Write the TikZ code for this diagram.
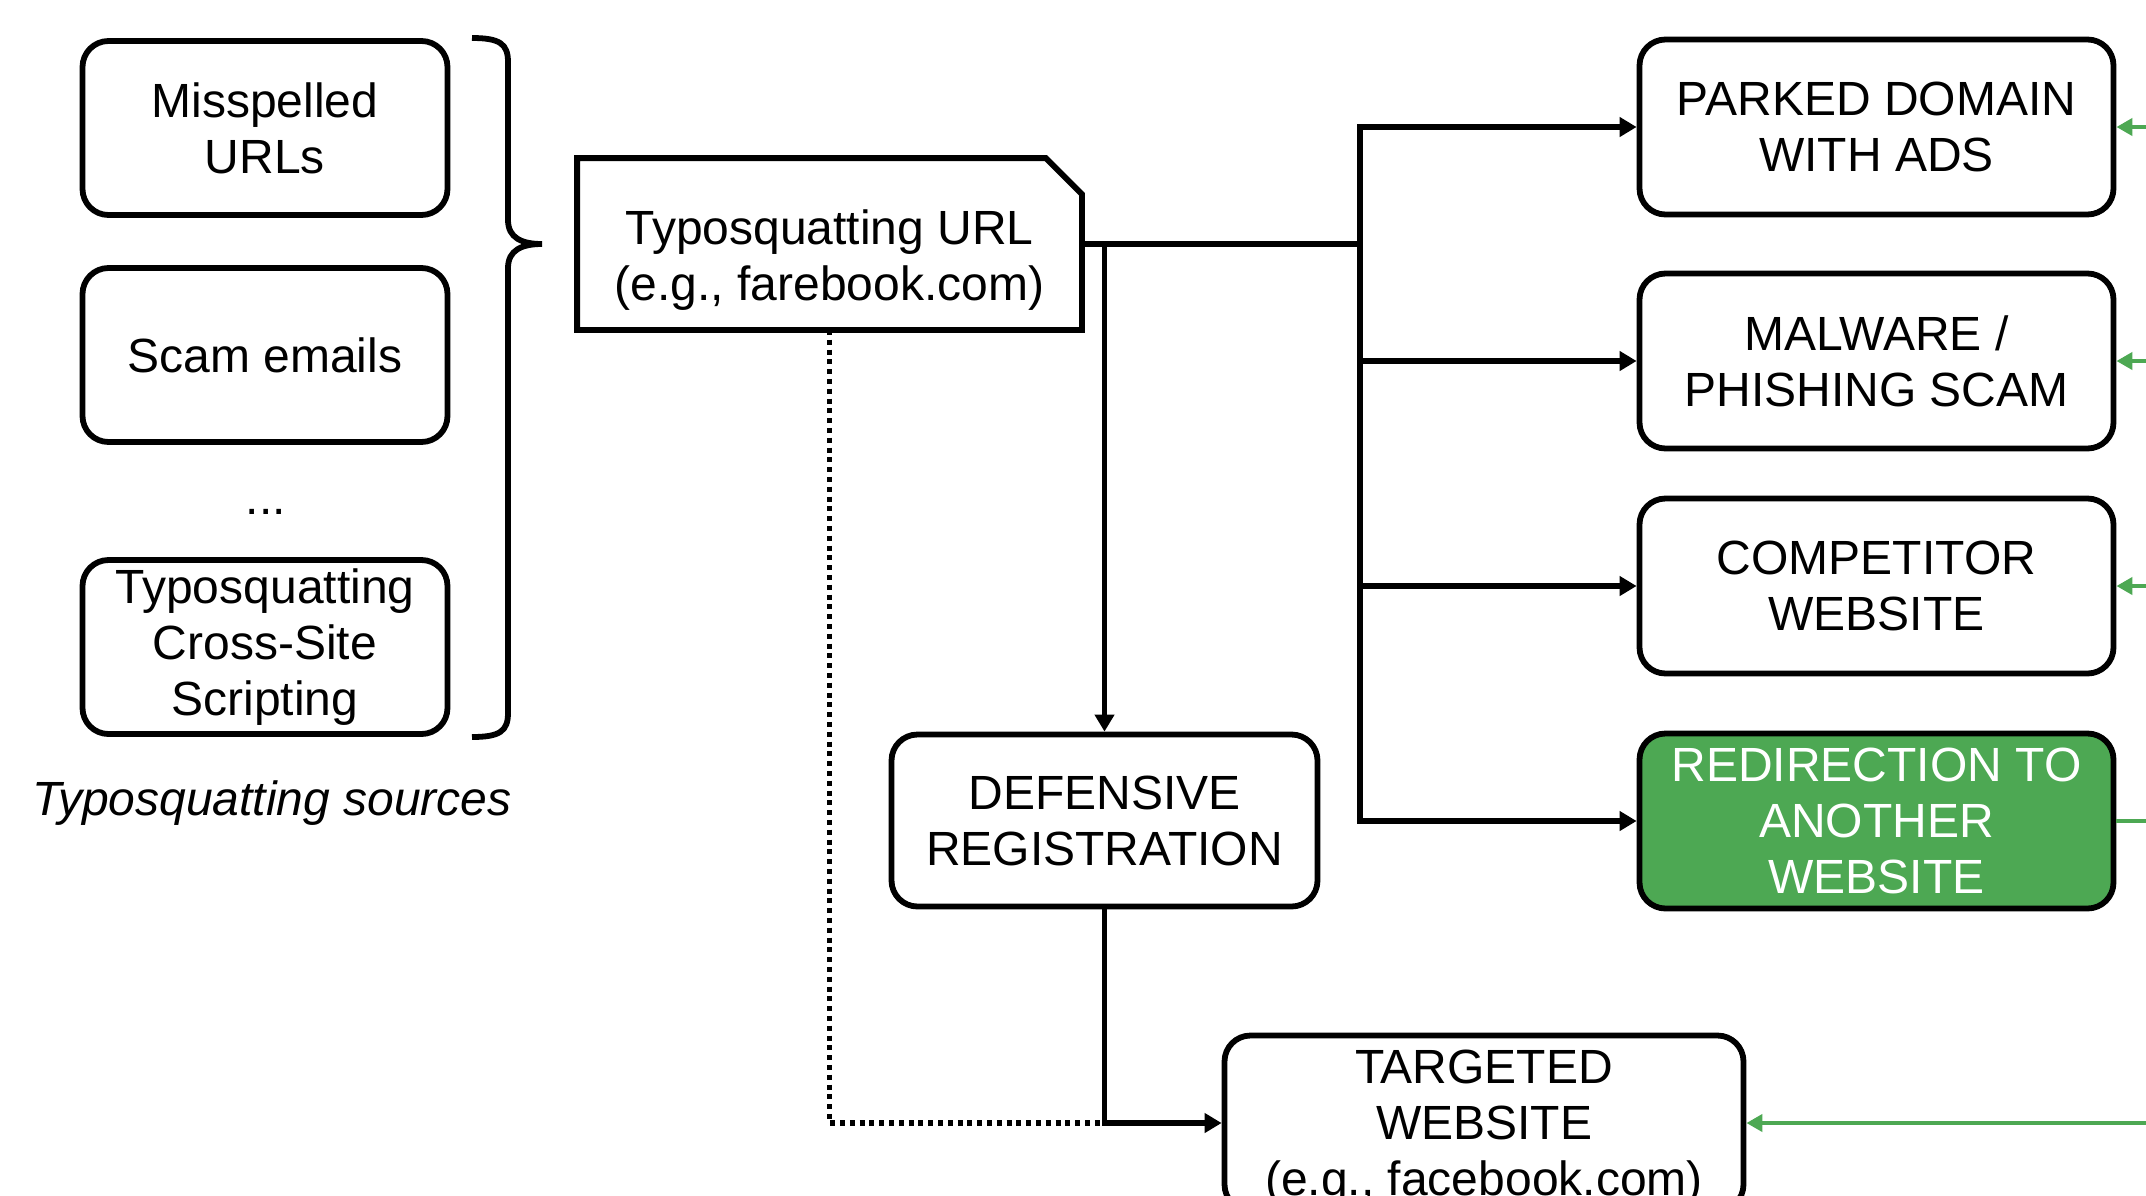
\documentclass[tikz,border=0pt]{standalone}
\usepackage{fontspec}
\setmainfont{Liberation Sans}
\usetikzlibrary{arrows.meta}
\definecolor{ggreen}{RGB}{77,168,83}
\begin{document}
\begin{tikzpicture}[x=0.5pt,y=-0.5pt,
 every node/.style={font=\fontsize{24pt}{28pt}\selectfont, inner sep=0pt},
 box/.style={draw, line width=2.9pt, rounded corners=13pt, minimum width=182.5pt, minimum height=87pt, align=center},
 rbox/.style={box, minimum width=237pt, minimum height=87.5pt},
 conn/.style={line width=2.7pt},
 arr/.style={conn, -{Triangle[length=8.5pt,width=9.5pt]}},
 dotl/.style={line width=2.7pt, dash pattern=on 2.5pt off 2.4pt},
 gline/.style={ggreen, line width=2pt},
 garr/.style={gline, -{Triangle[length=8pt,width=8.5pt]}}
]
\path[use as bounding box, clip] (0,0) rectangle (2146,1195);
\fill[white] (0,0) rectangle (2146,1195);

% sources
\node[box] (mis) at (265,128) {Misspelled\\URLs};
\node[box] (scam) at (265,355) {Scam emails};
\node (dots) at (266,512) {...};
\node[box] (xss) at (265,647) {Typosquatting\\Cross-Site\\Scripting};
\node[anchor=base, font=\fontsize{24pt}{28pt}\selectfont\itshape] (cap) at (272,815) {Typosquatting sources};

% brace
\draw[line width=2.9pt] (472,38) .. controls (500,38) and (508,44) .. (508,62) -- (508,220)
  .. controls (508,238) and (522,244) .. (542,244)
  .. controls (522,244) and (508,250) .. (508,268) -- (508,713)
  .. controls (508,731) and (500,737) .. (472,737);

% typosquatting URL
\node[minimum width=252pt, minimum height=85.5pt] (url) at (829.5,244) {};
\draw[line width=2.9pt] (url.north west) -- ([xshift=-18pt]url.north east) -- ([yshift=-18pt]url.north east) -- (url.south east) -- (url.south west) -- cycle;
\node[align=center] (urlt) at (829.5,260) {Typosquatting URL\\(e.g., farebook.com)};

% outcomes
\node[rbox] (parked) at (1876.5,127) {PARKED DOMAIN\\WITH ADS};
\node[rbox] (malware) at (1876.5,361) {MALWARE /\\PHISHING SCAM};
\node[rbox] (comp) at (1876.5,586) {COMPETITOR\\WEBSITE};
\node[rbox, fill=ggreen, text=white] (redir) at (1876.5,821) {REDIRECTION TO\\ANOTHER\\WEBSITE};
\node[box, minimum width=213pt, minimum height=86pt] (def) at (1104.5,820.5) {DEFENSIVE\\REGISTRATION};
\node[box, minimum width=259.5pt, minimum height=87.5pt] (target) at (1484,1123) {};
\node[align=center] (targett) at (1484,1128) {TARGETED\\WEBSITE\\(e.g., facebook.com)};

% black connectors
\coordinate (jt) at (1360,127);
\draw[conn] (url.east) -- (url.east -| jt);
\draw[arr] (url.east -| jt) |- (parked.west);
\draw[arr] (url.east -| jt) |- (redir.west);
\draw[arr] (malware.west -| jt) -- (malware.west);
\draw[arr] (comp.west -| jt) -- (comp.west);
\draw[arr] (url.east -| def.north) -- (def.north);
\draw[dotl] (url.south) |- (def.south |- target.west);
\draw[arr] (def.south) |- (target.west);

% green connectors
\coordinate (gx) at (2180,821);
\draw[gline] (redir.east) -- (gx);
\draw[gline] (gx |- parked.east) -- (gx |- target.west);
\draw[garr] (gx |- parked.east) -- (parked.east);
\draw[garr] (gx |- malware.east) -- (malware.east);
\draw[garr] (gx |- comp.east) -- (comp.east);
\draw[garr] (gx |- target.east) -- (target.east);
\end{tikzpicture}
\end{document}
